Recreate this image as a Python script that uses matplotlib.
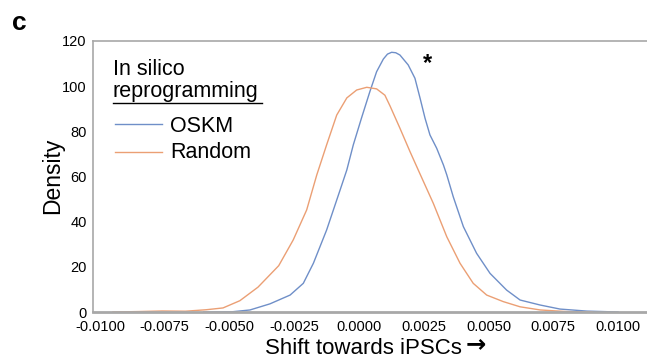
import matplotlib
matplotlib.use("Agg")
import matplotlib.pyplot as plt
from matplotlib.lines import Line2D

plt.rcParams['font.family'] = ['Liberation Sans', 'DejaVu Sans']

# Data (density curves)
random_x = [-0.0095, -0.0085, -0.0076, -0.0067, -0.0059, -0.00525, -0.0046, -0.0039,
            -0.0031, -0.00254, -0.00202, -0.00163, -0.00125, -0.00086, -0.00047, -0.00009,
            0.0003, 0.00068, 0.0010, 0.0012, 0.00158, 0.00197, 0.00233, 0.00287, 0.00339,
            0.0039, 0.00441, 0.00493, 0.00557, 0.00622, 0.0070, 0.0080, 0.0090]
random_y = [0.0, 0.2, 0.45, 0.35, 1.0, 1.8, 5.0, 11.0,
            20.5, 31.9, 45.2, 60.7, 74.0, 87.2, 94.8, 98.3,
            99.5, 98.8, 96.0, 91.2, 81.4, 71.0, 61.8, 48.1, 33.3,
            21.6, 12.7, 7.5, 4.6, 2.3, 0.9, 0.2, 0.0]

oskm_x = [-0.0060, -0.0049, -0.00421, -0.00344, -0.00266, -0.00215, -0.00176, -0.00125,
          -0.00073, -0.00047, -0.00022, 0.0001, 0.00042, 0.00068, 0.00094, 0.00110, 0.00126,
          0.00142, 0.00158, 0.0019, 0.00216, 0.00236, 0.00255, 0.00274, 0.0030, 0.00326,
          0.00339, 0.00364, 0.00403, 0.00454, 0.00506, 0.0057, 0.00622, 0.00699,
          0.00776, 0.0088, 0.0100]
oskm_y = [0.0, 0.1, 0.9, 3.6, 7.5, 12.7, 21.6, 36.3,
          54.0, 62.9, 74.0, 86.0, 97.6, 106.4, 112.0, 114.2, 115.0,
          114.8, 113.8, 109.4, 103.5, 94.6, 85.8, 78.4, 72.5, 65.1,
          60.7, 51.0, 37.8, 26.0, 17.1, 9.7, 5.3, 3.1,
          1.3, 0.4, 0.0]

xticks = [-0.0100, -0.0075, -0.0050, -0.0025, 0.0000, 0.0025, 0.0050, 0.0075, 0.0100]
xtick_labels = ['-0.0100', '-0.0075', '-0.0050', '-0.0025', '0.0000', '0.0025', '0.0050', '0.0075', '0.0100']
yticks = [0, 20, 40, 60, 80, 100, 120]

blue = '#6f8fc8'
orange = '#eb9f74'
gray = '#a8a8a8'

fig = plt.figure(figsize=(6.47, 3.59), dpi=100)
ax = fig.add_axes([93/647, 1-312/359, 554/647, 271/359])

ax.plot(oskm_x, oskm_y, color=blue, lw=1.0, solid_joinstyle='round')
ax.plot(random_x, random_y, color=orange, lw=1.0, solid_joinstyle='round')

ax.set_xlim(-0.01027, 0.01112)
ax.set_ylim(0, 120)
ax.set_xticks(xticks)
ax.set_xticklabels(xtick_labels)
ax.set_yticks(yticks)
ax.tick_params(length=0, labelsize=10.5)
ax.tick_params(axis='x', pad=6)
ax.tick_params(axis='y', pad=4.5)

for s in ['left', 'top']:
    ax.spines[s].set_color(gray)
    ax.spines[s].set_linewidth(1.2)
ax.spines['bottom'].set_color(gray)
ax.spines['bottom'].set_linewidth(2.0)
ax.spines['right'].set_visible(False)

# axis labels
fig.text(53/647, 1-176/359, 'Density', fontsize=16.5, rotation=90, ha='center', va='center')
fig.text(265/647, 1-354/359, 'Shift towards iPSCs', fontsize=16, ha='left', va='baseline')
fig.text(466/647, 1-344/359, '\u2192', fontsize=17.5, fontweight='bold', family='DejaVu Sans',
         ha='left', va='center')

# asterisk
ax.text(0.00263, 110, '*', fontsize=17, fontweight='bold', ha='center', va='center')

# panel label
fig.text(12/647, 1-23/359, 'c', fontsize=19, fontweight='bold', ha='left', va='center')

# manual legend
fig.text(113/647, 1-75/359, 'In silico', fontsize=15.5, ha='left', va='baseline')
fig.text(113/647, 1-97/359, 'reprogramming', fontsize=15.5, ha='left', va='baseline')
fig.add_artist(Line2D([113/647, 262/647], [1-103/359, 1-103/359], color='black', lw=1.0,
                      transform=fig.transFigure))
fig.add_artist(Line2D([115/647, 162/647], [1-124/359, 1-124/359], color=blue, lw=1.0,
                      transform=fig.transFigure))
fig.add_artist(Line2D([115/647, 162/647], [1-152/359, 1-152/359], color=orange, lw=1.0,
                      transform=fig.transFigure))
fig.text(170/647, 1-126/359, 'OSKM', fontsize=15.5, ha='left', va='center')
fig.text(170/647, 1-152/359, 'Random', fontsize=15.5, ha='left', va='center')

fig.savefig('out.png', dpi=100)
